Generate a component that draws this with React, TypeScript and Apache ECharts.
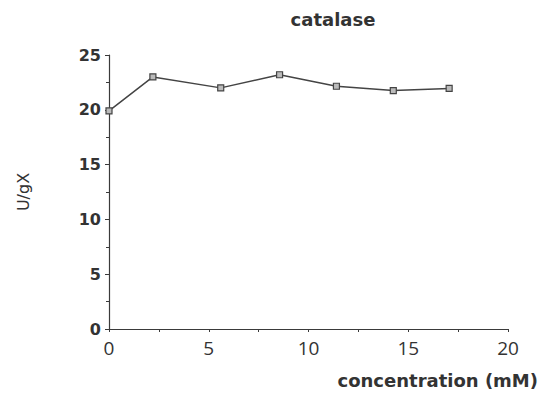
import React, { useEffect, useRef } from "react";
import * as echarts from "echarts";

const concentration = [0, 2.2, 5.6, 8.55, 11.4, 14.25, 17.05];
const activity = [19.9, 23.0, 22.0, 23.2, 22.15, 21.75, 21.95];
const xTicks = [0, 5, 10, 15, 20];
const yTicks = [0, 5, 10, 15, 20, 25];
const titleText = "catalase";
const xName = "concentration (mM)";
const yName = "U/gX";

export default function App() {
  const ref = useRef<HTMLDivElement>(null);
  useEffect(() => {
    if (!ref.current) return;
    const chart = echarts.init(ref.current, null, { renderer: "svg" });
    const axisColor = "#3a3a3a";
    chart.setOption({
      animation: false,
      backgroundColor: "#ffffff",
      title: {
        text: titleText,
        left: 328,
        top: 5,
        textAlign: "center",
        textStyle: { fontFamily: "DejaVu Sans", fontWeight: "bold", fontSize: 18, color: "#333" },
      },
      grid: { left: 109, right: 33, top: 55, bottom: 64, containLabel: false },
      xAxis: {
        type: "value",
        min: xTicks[0],
        max: xTicks[xTicks.length - 1],
        interval: 5,
        axisLine: { show: true, lineStyle: { color: axisColor, width: 1.2 } },
        axisTick: { show: true, length: 3, lineStyle: { color: axisColor } },
        minorTick: { show: true, splitNumber: 2, length: 3, lineStyle: { color: axisColor } },
        splitLine: { show: false },
        axisLabel: { margin: 9, fontFamily: "Open Sans", fontSize: 19, color: "#333" },
      },
      yAxis: {
        type: "value",
        min: yTicks[0],
        max: yTicks[yTicks.length - 1],
        interval: 5,
        name: yName,
        nameLocation: "middle",
        nameGap: 78,
        nameTextStyle: { fontFamily: "DejaVu Sans", fontSize: 16, color: "#333" },
        axisLine: { show: true, lineStyle: { color: axisColor, width: 1.2 } },
        axisTick: { show: true, length: 4, lineStyle: { color: axisColor } },
        minorTick: { show: true, splitNumber: 2, length: 3, lineStyle: { color: axisColor } },
        splitLine: { show: false },
        axisLabel: { margin: 8, fontFamily: "DejaVu Sans", fontWeight: "bold", fontSize: 16, color: "#333" },
      },
      graphic: [
        {
          type: "text",
          right: 3,
          top: 371,
          style: { text: xName, fontFamily: "DejaVu Sans", fontWeight: "bold", fontSize: 18, fill: "#333" },
        },
      ],
      series: [
        {
          type: "line",
          data: concentration.map((c, i) => [c, activity[i]]),
          symbol: "rect",
          symbolSize: 6,
          lineStyle: { color: "#444", width: 1.5 },
          itemStyle: { color: "#bbb", borderColor: "#444", borderWidth: 1.2 },
        },
      ],
    });
    return () => chart.dispose();
  }, []);
  return <div ref={ref} style={{ width: 541, height: 393, position: "absolute", left: 0, top: 0 }} />;
}
